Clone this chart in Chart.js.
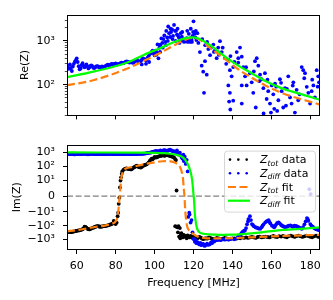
<!DOCTYPE html>
<html>
<head>
<meta charset="utf-8">
<script src="https://cdn.jsdelivr.net/npm/chart.js"></script>
<style>
body { margin: 0; background: #fff; }
#reBox { position: absolute; left: 0; top: 0; width: 333px; height: 130px; }
#imBox { position: absolute; left: 0; top: 130px; width: 333px; height: 170px; }
</style>
</head>
<body>
<div id="reBox"><canvas id="reChart" width="333" height="130"></canvas></div>
<div id="imBox"><canvas id="imChart" width="333" height="170"></canvas></div>
<script>
// ---- data ----
const freqTicks = [60, 80, 100, 120, 140, 160, 180]
const reTicks = [100, 1000]
const reTickLabels = ['10²', '10³']
const reMinorTicks = [20, 30, 40, 50, 60, 70, 80, 90, 200, 300, 400, 500, 600, 700, 800, 900, 2000, 3000]
const imTicks = [-1000, -100, -10, 0, 10, 100, 1000]
const imTickLabels = ['−10³', '−10²', '−10¹', '0', '10¹', '10²', '10³']

// Re(Z), Z_diff data (top panel)
const reDiffFreq = [
  55, 55.5, 56, 56.5, 57, 57.5, 58, 58.5, 59, 59.5,
  60, 60.5, 61, 61.5, 62, 62.5, 63, 63.5, 64, 64.5,
  65, 65.5, 66, 66.5, 67, 67.5, 68, 68.5, 69, 69.5,
  70, 70.5, 71, 71.5, 72, 72.5, 73, 73.5, 74, 74.5,
  75, 75.5, 76, 76.5, 77, 77.5, 78, 78.5, 79, 79.5,
  80, 80.5, 81, 81.5, 82, 82.5, 83, 83.5, 84, 84.5,
  85, 85.5, 86, 86.5, 87, 87.5, 88, 88.5, 89, 89.5,
  90, 90.5, 91, 91.5, 92, 92.5, 93, 93.5, 94, 94.5,
  95, 95.5, 96, 96.5, 97, 97.5, 98, 98.5, 99, 99.5,
  100, 93.4, 95.6, 97.2,
  100.5, 101, 101.5, 102, 102.5, 103, 103.5, 104, 104.5, 105,
  105.5, 106, 106.5, 107, 107.5, 108, 108.5, 109, 109.5, 110,
  110.5, 111, 111.5, 112, 112.5, 113, 113.5, 114, 114.5, 115,
  115.5, 116, 116.5, 117, 117.5, 118, 118.5, 119, 119.5, 120,
  120.5, 121, 121.5,
  101.2, 102.8, 104.2, 105.8, 106.8, 108.2, 109.2, 110.8, 111.8, 112.8,
  114.2, 115.2, 116.2, 117.2, 118.2, 118.8, 119.2, 116.8, 117.6, 118.6,
  119.8, 121.2, 122,
  122.5, 123.3, 124.2, 124.5, 125, 125.4, 125.9, 126, 126.8, 127,
  127.6, 128.5, 129, 130.2, 130.5, 131, 131.9, 132.7, 133, 133.6,
  134.5, 135, 136.2, 136.8, 137.9, 137.9, 138.3, 138.7, 138.7, 138.9,
  139, 139.6, 140.4, 140.4, 141, 142.2, 143, 143, 143.9, 144.8,
  144.8, 144.8, 145.6, 146.5, 147, 147.3, 149, 149.9, 150.7, 151,
  151.6, 152, 152.5, 153.3, 153.8, 154.2, 155, 155.9, 156, 156.7,
  157.6, 158, 158.4, 159.3, 159.8, 160.2, 161, 161.5, 161.9, 162.5,
  163, 163.6, 164.4, 165, 165.3, 166.1, 167, 167.5, 168, 168.7,
  169.6, 170.4, 171, 171.3, 172.1, 173, 173.8, 174.5, 175.6, 176.4,
  176.9, 177.3, 178.2, 179, 179.9, 180.7, 181, 181.6, 182.4, 183.3,
  183.8, 184.1, 184.5
]
const reDiffVal = [
  270, 250, 230, 290, 240, 205, 260, 300, 330, 360,
  400, 330, 265, 225, 235, 280, 310, 270, 250, 265,
  290, 260, 235, 250, 270, 275, 265, 245, 240, 250,
  260, 265, 260, 250, 245, 255, 260, 250, 250, 262,
  270, 280, 285, 278, 275, 290, 300, 295, 290, 300,
  305, 295, 290, 295, 300, 310, 320, 315, 310, 320,
  330, 340, 335, 330, 320, 325, 330, 320, 315, 330,
  345, 365, 370, 345, 330, 340, 350, 375, 400, 390,
  380, 360, 370, 420, 450, 500, 520, 560, 600, 520,
  470, 290, 300, 330,
  600, 480, 830, 400, 700, 820, 1140, 900, 1100, 1330,
  950, 1690, 1200, 2140, 1500, 1230, 1600, 1830, 1300, 2320,
  1700, 1690, 1400, 1330, 1200, 1050, 1500, 1250, 1000, 1100,
  1050, 1000, 1150, 950, 1100, 1000, 1150, 1050, 1300, 2800,
  1460, 1200, 1050,
  550, 560, 700, 800, 1000, 1900, 1100, 1000, 1900, 900,
  1600, 950, 1100, 1050, 950, 1050, 950, 1700, 1450, 1900,
  1600, 1700, 1500,
  900, 556, 272, 1100, 198, 65, 345, 800, 169, 950,
  650, 473, 700, 826, 560, 600, 404, 705, 480, 985,
  556, 700, 404, 300, 373, 96, 41, 214, 65, 27,
  450, 155, 252, 43, 330, 556, 404, 318, 705, 437,
  96, 37, 252, 155, 250, 96, 183, 113, 65, 200,
  345, 30, 404, 272, 120, 169, 133, 83, 22, 183,
  47, 130, 71, 37, 23, 96, 60, 28, 105, 90,
  25, 44, 133, 110, 71, 30, 83, 33, 80, 155,
  51, 37, 95, 113, 23, 76, 44, 60, 252, 214,
  140, 183, 89, 65, 37, 71, 130, 96, 51, 214,
  90, 155, 113
]

// Re(Z) fits
const reFitFreq = [55, 68.5, 85.7, 94.2, 102.8, 111.4, 116.5, 119.5, 122.5, 129.3, 136.2, 143, 149.9, 156.7, 163.6, 170.4, 177.3, 185]
const reDiffFit = [148, 198, 318, 473, 683, 1000, 1170, 1210, 1140, 760, 437, 272, 183, 123, 89, 70, 57, 45]
const reTotFit = [97, 126, 232, 345, 530, 855, 1100, 1170, 1100, 650, 385, 225, 144, 97, 70, 54, 44, 35]

// Im(Z), Z_tot data (bottom panel)
const imTotFreq = [
  55, 55.5, 56, 56.5, 57, 57.5, 58, 58.5, 59, 59.5,
  60, 60.5, 61, 61.5, 62, 62.5, 63, 63.5, 64, 64.5,
  65, 65.5, 66, 66.5, 67, 67.5, 68, 68.5, 69, 69.5,
  70, 70.5, 71, 71.5, 72, 72.5, 73, 73.5, 74, 74.5,
  75, 75.5, 76, 76.5, 77, 77.5, 78, 78.5, 79, 79.5,
  80, 80.5, 81, 81.3, 81.6, 81.9, 82.2, 82.5, 82.8, 83.1,
  83.4, 84, 84.5, 85, 85.5, 86, 86.5, 87, 87.5, 88,
  88.5, 89, 89.5, 90, 90.5, 91, 91.5, 92, 92.5, 93,
  93.5, 94, 94.5, 95, 95.5, 96, 96.5, 97, 97.5, 98,
  98.5, 99, 99.5, 100, 100.5, 101, 101.5, 102, 102.5, 103,
  103.5, 104, 104.5, 105, 105.5, 106, 106.5, 107, 107.5, 108,
  108.5, 109, 109.5, 110, 110.5, 111, 111.3, 110.6, 111.2, 111.8,
  112, 112.3, 112.6, 113, 113.2, 113.5, 113.8, 114, 114.5, 115,
  115.5, 116, 116.5, 117, 117.5, 118, 118.5, 119, 119.5, 120,
  120.5, 121, 121.5, 122, 122.5, 123, 123.5, 124, 124.5, 125,
  125.5, 126, 126.5, 127, 127.5, 128, 128.5, 129, 129.5, 130,
  131, 132, 133, 134, 135, 136, 137, 138, 139, 140,
  141, 142, 143, 144, 145, 146, 147, 148, 149, 150,
  151, 152, 153, 154, 155, 156, 157, 158, 159, 160,
  161, 162, 163, 164, 165, 166, 167, 168, 169, 170,
  171, 172, 173, 174, 175, 176, 177, 178, 179, 180,
  181, 182, 183, 184, 185
]
const imTotVal = [
  -262, -275, -280, -290, -290, -285, -270, -265, -250, -245,
  -235, -225, -220, -215, -205, -195, -180, -160, -120, -125,
  -140, -165, -180, -185, -170, -160, -150, -140, -130, -120,
  -115, -110, -108, -115, -120, -118, -115, -112, -110, -108,
  -105, -100, -95, -90, -85, -80, -75, -70, -46, -68,
  -77, -60, -21, -12, -5, -1, 5.6, 10, 17, 30,
  45, 58, 66, 70, 75, 72, 68, 65, 63, 62,
  70, 80, 90, 95, 110, 117, 100, 90, 88, 85,
  95, 110, 120, 130, 138, 145, 170, 200, 250, 300,
  371, 330, 400, 480, 440, 450, 500, 520, 560, 600,
  580, 620, 640, 580, 610, 650, 660, 630, 600, 560,
  540, 520, 480, 450, 350, 290, 3.6, -110, -120, -130,
  -300, -110, -600, -150, -800, -400, -350, -500, -700, -450,
  -600, -550, -800, -500, -650, -700, -550, -600, -750, -650,
  -600, -700, -750, -800, -700, -650, -700, -750, -850, -900,
  -850, -800, -820, -850, -780, -700, -750, -800, -850, -900,
  -850, -750, -800, -900, -850, -750, -800, -950, -850, -800,
  -800, -850, -750, -800, -700, -760, -680, -760, -700, -650,
  -700, -760, -650, -600, -700, -650, -600, -650, -700, -600,
  -550, -620, -650, -560, -600, -550, -620, -680, -560, -520,
  -580, -640, -560, -520, -580, -640, -580, -520, -560, -620,
  -680, -580, -520, -620, -680
]

// Im(Z), Z_diff data
const imDiffFreq = [
  55, 55.5, 56, 56.5, 57, 57.5, 58, 58.5, 59, 59.5,
  60, 60.5, 61, 61.5, 62, 62.5, 63, 63.5, 64, 64.5,
  65, 65.5, 66, 66.5, 67, 67.5, 68, 68.5, 69, 69.5,
  70, 70.5, 71, 71.5, 72, 72.5, 73, 73.5, 74, 74.5,
  75, 75.5, 76, 76.5, 77, 77.5, 78, 78.5, 79, 79.5,
  80, 80.5, 81, 81.5, 82, 82.5, 83, 83.5, 84, 84.5,
  85, 85.5, 86, 86.5, 87, 87.5, 88, 88.5, 89, 89.5,
  90, 90.5, 91, 91.5, 92, 92.5, 93, 93.5, 94, 94.5,
  95, 95.5, 96, 96.5, 97, 97.5, 98, 98.5, 99, 99.5,
  100, 100.5, 101, 101.5, 102, 102.5, 103, 103.5, 104, 104.5,
  105, 105.5, 106, 106.5, 107, 107.5, 108, 108.5, 109, 109.5,
  110, 110.5, 111, 111.5, 112, 112.5, 113, 113.5, 114, 114.3,
  114.8, 115, 115.5, 116, 116.5, 117, 117.3, 117.8, 118, 118.5,
  119, 119.5, 120, 120.7, 121, 121.5, 122, 122.5, 123, 123.5,
  124, 124.5, 125, 125.5, 125.8, 126.5, 127, 127.5, 128.3, 129,
  129.5, 130, 130.5, 131, 131.7, 132.5, 133, 134, 135, 136,
  136.8, 138, 139, 140, 141, 142, 143, 143.5, 144, 144.5,
  145, 145.5, 146, 146.4, 147, 147.5, 148, 148.2, 149, 149.5,
  150, 150.5, 151, 151.8, 152.5, 153, 153.5, 154.3, 155, 155.5,
  156, 156.9, 157.5, 158, 158.6, 159, 159.5, 160.3, 161, 161.5,
  162, 162.5, 163, 163.7, 164.3, 165, 165.5, 166, 166.5, 167.2,
  168, 168.5, 169, 169.8, 170.5, 171, 171.5, 172, 172.6, 173.2,
  173.8, 174.5, 175, 175.7, 176.3, 177, 177.6, 178.3, 178.7, 179,
  179.5, 180, 180.2, 180.6, 181.3, 182, 182.6, 183.3, 184, 184.6,
  185
]
const imDiffVal = [
  790, 770, 760, 780, 800, 790, 770, 750, 740, 760,
  780, 800, 800, 780, 760, 770, 790, 810, 820, 800,
  770, 750, 750, 770, 790, 800, 810, 790, 770, 760,
  760, 770, 780, 790, 800, 800, 790, 770, 760, 770,
  780, 775, 770, 785, 800, 795, 790, 775, 760, 770,
  780, 790, 800, 785, 770, 780, 790, 785, 780, 770,
  760, 780, 800, 795, 790, 785, 780, 790, 800, 790,
  780, 785, 790, 800, 810, 805, 800, 810, 820, 835,
  850, 870, 900, 930, 950, 980, 1000, 1050, 1100, 1150,
  1200, 1250, 1300, 1200, 1150, 1300, 1400, 1300, 1250, 1400,
  1500, 1400, 1300, 1350, 1400, 1500, 1600, 1450, 1350, 1250,
  1200, 1150, 1100, 1400, 900, 700, 1000, 600, 450, 370,
  700, 250, 500, 155, 300, 45, -24, -12, -16, -60,
  -40, -300, -900, -1400, -1100, -1800, -1500, -1900, -2200, -1700,
  -2500, -2100, -2000, -2600, -2800, -2300, -1900, -2400, -2200, -1600,
  -1800, -1300, -1400, -1200, -1100, -1050, -1000, -1100, -950, -1000,
  -950, -1000, -900, -850, -950, -800, -600, -500, -450, -380,
  -300, -260, -240, -220, -150, -80, -50, -34, -21, -40,
  -77, -90, -110, -130, -140, -150, -160, -170, -130, -100,
  -80, -58, -50, -45, -40, -55, -70, -100, -115, -130,
  -100, -80, -65, -58, -70, -90, -100, -110, -120, -130,
  -120, -110, -100, -95, -110, -120, -110, -100, -105, -115,
  -125, -140, -155, -170, -130, -80, -50, -29, -35, -45,
  4.4, -77, 1.3, -100, -120, -150, -170, -185, -200, -210,
  -220
]

// Im(Z) fits
const imTotFitFreq = [55, 60, 65, 70, 75, 78, 80, 81, 81.5, 82, 82.5, 83, 84, 85, 88, 92, 96, 100, 104, 107,
  110, 112, 113, 114, 114.5, 115, 115.3, 115.8, 116.5, 117.5, 119, 121, 123.3, 126.7, 130, 140, 150, 160, 170, 185]
const imTotFit = [-250, -210, -160, -120, -95, -72, -50, -22, -8, -1, 6, 18, 50, 70, 90, 120, 160, 200, 240, 245,
  200, 140, 95, 40, 19, 5, 1, -10, -80, -200, -310, -500, -680, -800, -820, -780, -680, -590, -520, -450]
const imDiffFitFreq = [55, 70, 90, 100, 105, 108, 111, 113, 115, 116.5, 117.5, 118.2, 119, 119.5, 119.9,
  120.3, 120.7, 121.2, 121.8, 122.5, 123.5, 125, 128, 133.5, 140, 145, 155, 163.4, 175, 185]
const imDiffFit = [1020, 1010, 990, 960, 900, 820, 700, 590, 400, 210, 110, 56, 20, 8, 2.3,
  -3, -15, -60, -150, -250, -330, -380, -420, -450, -440, -400, -300, -220, -170, -135]

const zeroFreq = [55, 185]
const zeroVal = [0, 0]

// ---- helpers ----
function pts(xs, ys) {
  return xs.map((x, i) => ({ x: x, y: ys[i] }))
}

// symmetric log scale, linthresh 10, linscale 1 (like matplotlib)
const LINTHRESH = 10
const LINSCALE = 1 / (1 - 1 / 10)
function symT(v) {
  const a = Math.abs(v)
  if (a <= LINTHRESH) return v / LINTHRESH * LINSCALE
  return Math.sign(v) * (LINSCALE + Math.log10(a / LINTHRESH))
}
function symInv(t) {
  const a = Math.abs(t)
  if (a <= LINSCALE) return t / LINSCALE * LINTHRESH
  return Math.sign(t) * LINTHRESH * Math.pow(10, a - LINSCALE)
}
class SymlogScale extends Chart.Scale {
  static id = 'symlog'
  static defaults = {}
  determineDataLimits() {
    this.min = this.options.min
    this.max = this.options.max
  }
  buildTicks() {
    return []
  }
  configure() {
    super.configure()
    this._t0 = symT(this.min)
    this._t1 = symT(this.max)
  }
  getPixelForValue(value) {
    return this.getPixelForDecimal((symT(value) - this._t0) / (this._t1 - this._t0))
  }
  getValueForPixel(pixel) {
    return symInv(this._t0 + this.getDecimalForPixel(pixel) * (this._t1 - this._t0))
  }
  getLabelForValue(value) {
    return String(value)
  }
}
Chart.register(SymlogScale)

Chart.defaults.font.family = '"DejaVu Sans"'
Chart.defaults.font.size = 11
Chart.defaults.color = '#000'

function tickGrid(len, width) {
  return { drawOnChartArea: false, drawTicks: true, tickLength: len, tickColor: '#000', tickWidth: width }
}
function fixTicks(values) {
  return scale => { scale.ticks = values.map(v => ({ value: v })) }
}

// axes box, like matplotlib spines
const framePlugin = {
  id: 'frame',
  afterDatasetsDraw(chart) {
    const a = chart.chartArea
    const ctx = chart.ctx
    ctx.save()
    ctx.strokeStyle = '#000'
    ctx.lineWidth = 1
    ctx.strokeRect(Math.round(a.left) + 0.5, Math.round(a.top) + 0.5,
      Math.round(a.right - a.left) - 1, Math.round(a.bottom - a.top) - 1)
    ctx.restore()
  }
}

// legend with subscripts (Z_tot, Z_diff)
const zLegend = {
  id: 'zLegend',
  afterDraw(chart) {
    const ctx = chart.ctx
    const area = chart.chartArea
    const items = chart.data.datasets.filter(d => d.inLegend)
    const w = 91, h = 61
    const x0 = area.right - w - 5, y0 = area.top + 6
    ctx.save()
    ctx.beginPath()
    ctx.roundRect(x0 + 0.5, y0 + 0.5, w, h, 3)
    ctx.fillStyle = 'rgba(255,255,255,0.8)'
    ctx.fill()
    ctx.strokeStyle = 'rgba(204,204,204,0.8)'
    ctx.lineWidth = 1
    ctx.stroke()
    items.forEach((d, i) => {
      const base = y0 + 12.5 + i * 13.7
      const mid = base - 3.5
      if (d.showLine) {
        ctx.beginPath()
        ctx.setLineDash(d.borderDash || [])
        ctx.strokeStyle = d.borderColor
        ctx.lineWidth = d.borderWidth
        ctx.moveTo(x0 + 4, mid)
        ctx.lineTo(x0 + 26, mid)
        ctx.stroke()
        ctx.setLineDash([])
      } else {
        ctx.fillStyle = d.pointBackgroundColor
        ;[6, 14.3, 22.7].forEach(dx => {
          ctx.beginPath()
          ctx.arc(x0 + dx, mid, 1.3, 0, 2 * Math.PI)
          ctx.fill()
        })
      }
      const parts = d.label.split('_')
      const cut = parts[1].indexOf(' ')
      const sub = parts[1].slice(0, cut)
      const tail = parts[1].slice(cut)
      let x = x0 + 36
      ctx.fillStyle = '#000'
      ctx.textAlign = 'left'
      ctx.textBaseline = 'alphabetic'
      ctx.font = 'italic 11px "DejaVu Sans"'
      ctx.fillText(parts[0], x, base)
      x += ctx.measureText(parts[0]).width
      ctx.font = 'italic 7.7px "DejaVu Sans"'
      ctx.fillText(sub, x, base + 2.5)
      x += ctx.measureText(sub).width
      ctx.font = '11px "DejaVu Sans"'
      ctx.fillText(tail, x, base)
    })
    ctx.restore()
  }
}

const dotStyle = { pointRadius: 1.9, pointBorderWidth: 0, clip: 0 }

// ---- top panel: Re(Z) ----
new Chart(document.getElementById('reChart'), {
  type: 'scatter',
  data: {
    datasets: [
      Object.assign({ label: 'Z_diff data', data: pts(reDiffFreq, reDiffVal), pointBackgroundColor: '#0000ff', order: 2 }, dotStyle),
      { label: 'Z_tot fit', data: pts(reFitFreq, reTotFit), showLine: true, pointRadius: 0, borderColor: '#ff7f0e',
        borderWidth: 2.2, borderDash: [8, 3.5], cubicInterpolationMode: 'monotone', clip: 0, order: 1 },
      { label: 'Z_diff fit', data: pts(reFitFreq, reDiffFit), showLine: true, pointRadius: 0, borderColor: '#00ff00',
        borderWidth: 2.2, cubicInterpolationMode: 'monotone', clip: 0, order: 0 }
    ]
  },
  options: {
    responsive: false,
    animation: false,
    events: [],
    layout: { padding: { left: 19, right: 13, top: 12, bottom: 0 } },
    plugins: { legend: { display: false }, tooltip: { enabled: false } },
    scales: {
      x: {
        type: 'linear', min: 55, max: 185,
        grid: tickGrid(4, 1), border: { display: false },
        ticks: { display: false, autoSkip: false },
        afterBuildTicks: fixTicks(freqTicks),
        afterFit: s => { s.height = 7 }
      },
      y: {
        type: 'logarithmic', position: 'left', min: 19.8, max: 4000, weight: 1,
        grid: tickGrid(4, 1), border: { display: false },
        ticks: { autoSkip: false, padding: 8, callback: v => reTickLabels[reTicks.indexOf(v)] },
        title: { display: true, text: 'Re(Z)', padding: 0 },
        afterBuildTicks: fixTicks(reTicks),
        afterFit: s => { s.width = 48 }
      },
      yMinor: {
        type: 'logarithmic', position: 'left', min: 19.8, max: 4000, weight: 0,
        grid: tickGrid(2.2, 0.7), border: { display: false },
        ticks: { autoSkip: false, callback: () => '' },
        afterBuildTicks: fixTicks(reMinorTicks),
        afterFit: s => { s.width = 0 }
      }
    }
  },
  plugins: [framePlugin]
})

// ---- bottom panel: Im(Z) ----
new Chart(document.getElementById('imChart'), {
  type: 'scatter',
  data: {
    datasets: [
      Object.assign({ label: 'Z_tot data', data: pts(imTotFreq, imTotVal), pointBackgroundColor: '#000000', order: 3, inLegend: true }, dotStyle),
      Object.assign({ label: 'Z_diff data', data: pts(imDiffFreq, imDiffVal), pointBackgroundColor: '#0000ff', order: 2, inLegend: true }, dotStyle),
      { label: 'Z_tot fit', data: pts(imTotFitFreq, imTotFit), showLine: true, pointRadius: 0, borderColor: '#ff7f0e',
        borderWidth: 2.2, borderDash: [8, 3.5], cubicInterpolationMode: 'monotone', clip: 0, order: 1, inLegend: true },
      { label: 'Z_diff fit', data: pts(imDiffFitFreq, imDiffFit), showLine: true, pointRadius: 0, borderColor: '#00ff00',
        borderWidth: 2.2, cubicInterpolationMode: 'monotone', clip: 0, order: 0, inLegend: true },
      { label: 'zero', data: pts(zeroFreq, zeroVal), showLine: true, pointRadius: 0, borderColor: '#808080',
        borderWidth: 1.4, borderDash: [6, 2.6], clip: 0, order: 4 }
    ]
  },
  options: {
    responsive: false,
    animation: false,
    events: [],
    layout: { padding: { left: 11, right: 13, top: 10, bottom: 0 } },
    plugins: { legend: { display: false }, tooltip: { enabled: false } },
    scales: {
      x: {
        type: 'linear', min: 55, max: 185,
        grid: tickGrid(4, 1), border: { display: false },
        ticks: { autoSkip: false, maxRotation: 0, padding: 6, callback: v => String(v) },
        title: { display: true, text: 'Frequency [MHz]', padding: { top: 0, bottom: 10 } },
        afterBuildTicks: fixTicks(freqTicks),
        afterFit: s => { s.height = 50 }
      },
      y: {
        type: 'symlog', position: 'left', min: -5500, max: 3700,
        grid: tickGrid(4, 1), border: { display: false },
        ticks: { autoSkip: false, padding: 8, callback: v => imTickLabels[imTicks.indexOf(v)] },
        title: { display: true, text: 'Im(Z)', padding: 0 },
        afterBuildTicks: fixTicks(imTicks),
        afterFit: s => { s.width = 56 }
      }
    }
  },
  plugins: [framePlugin, zLegend]
})
</script>
</body>
</html>
